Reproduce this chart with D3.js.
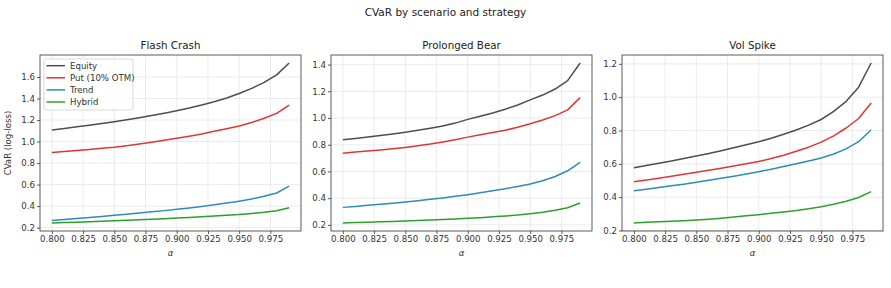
<!DOCTYPE html>
<html>
<head>
<meta charset="utf-8">
<script src="https://cdn.jsdelivr.net/npm/d3@7"></script>
<style>
  body { margin: 0; background: #fff; }
  svg { font-family: "DejaVu Sans", sans-serif; }
</style>
</head>
<body>
<div id="chart"></div>
<script>
// alpha levels and tick labels
var alphas = [0.80, 0.81, 0.82, 0.83, 0.84, 0.85, 0.86, 0.87, 0.88, 0.89,
              0.90, 0.91, 0.92, 0.93, 0.94, 0.95, 0.96, 0.97, 0.98, 0.99];
var xTicks = [0.800, 0.825, 0.850, 0.875, 0.900, 0.925, 0.950, 0.975];

var strategies = ['Equity', 'Put (10% OTM)', 'Trend', 'Hybrid'];
var scenarios = ['Flash Crash', 'Prolonged Bear', 'Vol Spike'];

// Flash Crash
var flashEquity = [1.108, 1.122, 1.137, 1.152, 1.168, 1.185, 1.203, 1.222, 1.242, 1.263,
                   1.286, 1.311, 1.339, 1.370, 1.405, 1.446, 1.494, 1.550, 1.620, 1.730];
var flashPut    = [0.898, 0.907, 0.917, 0.927, 0.937, 0.948, 0.962, 0.977, 0.993, 1.011,
                   1.031, 1.050, 1.071, 1.095, 1.119, 1.145, 1.177, 1.216, 1.262, 1.338];
var flashTrend  = [0.267, 0.276, 0.285, 0.294, 0.304, 0.315, 0.325, 0.336, 0.347, 0.358,
                   0.370, 0.383, 0.397, 0.412, 0.428, 0.446, 0.466, 0.492, 0.522, 0.585];
var flashHybrid = [0.243, 0.247, 0.251, 0.255, 0.259, 0.263, 0.268, 0.273, 0.278, 0.283,
                   0.289, 0.295, 0.301, 0.308, 0.315, 0.322, 0.331, 0.342, 0.357, 0.385];

// Prolonged Bear
var bearEquity = [0.837, 0.847, 0.858, 0.869, 0.881, 0.894, 0.908, 0.924, 0.941, 0.962,
                  0.990, 1.013, 1.038, 1.066, 1.098, 1.136, 1.172, 1.217, 1.280, 1.412];
var bearPut    = [0.737, 0.745, 0.753, 0.761, 0.770, 0.780, 0.792, 0.805, 0.821, 0.838,
                  0.857, 0.874, 0.891, 0.908, 0.931, 0.957, 0.985, 1.018, 1.061, 1.153];
var bearTrend  = [0.331, 0.338, 0.346, 0.354, 0.362, 0.371, 0.381, 0.391, 0.402, 0.414,
                  0.426, 0.440, 0.455, 0.471, 0.488, 0.506, 0.530, 0.562, 0.605, 0.668];
var bearHybrid = [0.214, 0.217, 0.220, 0.223, 0.226, 0.229, 0.232, 0.236, 0.240, 0.244,
                  0.249, 0.254, 0.260, 0.266, 0.273, 0.283, 0.295, 0.310, 0.328, 0.364];

// Vol Spike
var volEquity = [0.577, 0.590, 0.604, 0.617, 0.632, 0.647, 0.662, 0.679, 0.696, 0.714,
                 0.732, 0.754, 0.777, 0.803, 0.832, 0.866, 0.915, 0.975, 1.060, 1.205];
var volPut    = [0.493, 0.503, 0.514, 0.525, 0.537, 0.549, 0.561, 0.574, 0.587, 0.600,
                 0.614, 0.632, 0.652, 0.675, 0.700, 0.730, 0.768, 0.815, 0.872, 0.965];
var volTrend  = [0.439, 0.448, 0.458, 0.468, 0.478, 0.489, 0.501, 0.513, 0.526, 0.539,
                 0.553, 0.568, 0.584, 0.600, 0.617, 0.635, 0.659, 0.690, 0.733, 0.805];
var volHybrid = [0.245, 0.249, 0.252, 0.256, 0.259, 0.263, 0.268, 0.274, 0.281, 0.288,
                 0.295, 0.303, 0.311, 0.320, 0.331, 0.343, 0.357, 0.375, 0.398, 0.433];

var yTicksByPanel = [
  [0.2, 0.4, 0.6, 0.8, 1.0, 1.2, 1.4, 1.6],
  [0.2, 0.4, 0.6, 0.8, 1.0, 1.2, 1.4],
  [0.2, 0.4, 0.6, 0.8, 1.0, 1.2]
];

var panels = [
  [flashEquity, flashPut, flashTrend, flashHybrid],
  [bearEquity, bearPut, bearTrend, bearHybrid],
  [volEquity, volPut, volTrend, volHybrid]
];

var colors = ['#4d4d4d', '#e03535', '#2e8bba', '#2ca02c'];

var width = 891, height = 288;
var plotW = 261, plotH = 176;
var plotTop = 55;
var lefts = [40, 331, 622];

var svg = d3.select('#chart').append('svg')
  .attr('width', width)
  .attr('height', height);

// overall title
svg.append('text')
  .attr('x', 445.5).attr('y', 15.5)
  .attr('text-anchor', 'middle')
  .attr('font-size', 10.5)
  .attr('fill', '#222')
  .text('CVaR by scenario and strategy');

// pad a domain by 5% like matplotlib does
function padded(lo, hi) {
  var m = (hi - lo) * 0.05;
  return [lo - m, hi + m];
}

panels.forEach(function(series, p) {
  var g = svg.append('g').attr('transform', 'translate(' + lefts[p] + ',' + plotTop + ')');

  var x = d3.scaleLinear()
    .domain(padded(d3.min(alphas), d3.max(alphas)))
    .range([0, plotW]);
  var allVals = d3.merge(series);
  var y = d3.scaleLinear()
    .domain(padded(d3.min(allVals), d3.max(allVals)))
    .range([plotH, 0]);

  // grid
  g.append('g').selectAll('line').data(xTicks).enter().append('line')
    .attr('x1', function(d) { return x(d); }).attr('x2', function(d) { return x(d); })
    .attr('y1', 0).attr('y2', plotH)
    .attr('stroke', '#e6e6e6').attr('stroke-width', 0.8);
  g.append('g').selectAll('line').data(yTicksByPanel[p]).enter().append('line')
    .attr('y1', function(d) { return y(d); }).attr('y2', function(d) { return y(d); })
    .attr('x1', 0).attr('x2', plotW)
    .attr('stroke', '#e6e6e6').attr('stroke-width', 0.8);

  // lines
  var line = d3.line()
    .x(function(d, i) { return x(alphas[i]); })
    .y(function(d) { return y(d); });

  series.forEach(function(vals, s) {
    g.append('path')
      .datum(vals)
      .attr('d', line)
      .attr('fill', 'none')
      .attr('stroke', colors[s])
      .attr('stroke-width', 1.5)
      .attr('stroke-linejoin', 'round');
  });

  // axes
  var xAxis = d3.axisBottom(x).tickValues(xTicks).tickFormat(d3.format('.3f')).tickSize(3).tickPadding(2);
  var yAxis = d3.axisLeft(y).tickValues(yTicksByPanel[p]).tickFormat(d3.format('.1f')).tickSize(3).tickPadding(2);

  var gx = g.append('g').attr('transform', 'translate(0,' + plotH + ')').call(xAxis);
  var gy = g.append('g').call(yAxis);
  [gx, gy].forEach(function(a) {
    a.select('.domain').remove();
    a.selectAll('text').attr('font-size', 8.6).attr('fill', '#333').attr('font-family', 'DejaVu Sans');
    a.selectAll('line').attr('stroke', '#333').attr('stroke-width', 0.8);
  });

  // frame
  g.append('rect')
    .attr('width', plotW).attr('height', plotH)
    .attr('fill', 'none')
    .attr('stroke', '#333')
    .attr('stroke-width', 0.8);

  // title
  g.append('text')
    .attr('x', plotW / 2).attr('y', -6)
    .attr('text-anchor', 'middle')
    .attr('font-size', 10.3)
    .attr('fill', '#222')
    .text(scenarios[p]);

  // x label
  g.append('text')
    .attr('x', plotW / 2).attr('y', plotH + 25)
    .attr('text-anchor', 'middle')
    .attr('font-size', 8.6)
    .attr('font-style', 'italic')
    .attr('fill', '#333')
    .text('α');

  if (p === 0) {
    g.append('text')
      .attr('transform', 'translate(-29,' + (plotH / 2) + ') rotate(-90)')
      .attr('text-anchor', 'middle')
      .attr('font-size', 8.6)
      .attr('fill', '#333')
      .text('CVaR (log-loss)');

    // legend
    var leg = g.append('g').attr('transform', 'translate(4,4)');
    leg.append('rect')
      .attr('width', 89).attr('height', 51)
      .attr('rx', 2)
      .attr('fill', '#fff').attr('fill-opacity', 0.8)
      .attr('stroke', '#d0d0d0').attr('stroke-width', 0.8);
    strategies.forEach(function(name, s) {
      var ly = 6.7 + s * 12.1;
      leg.append('line')
        .attr('x1', 2.5).attr('x2', 21)
        .attr('y1', ly).attr('y2', ly)
        .attr('stroke', colors[s]).attr('stroke-width', 1.5);
      leg.append('text')
        .attr('x', 26).attr('y', ly + 3)
        .attr('font-size', 8.6)
        .attr('fill', '#333')
        .text(name);
    });
  }
});
</script>
</body>
</html>
